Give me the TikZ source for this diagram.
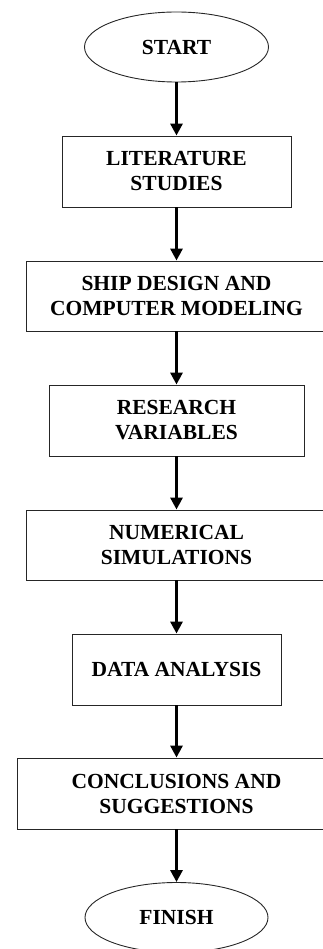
\documentclass[tikz,border=0pt]{standalone}
\usepackage{fontspec}
\setmainfont{Liberation Serif}
\usetikzlibrary{shapes.geometric,arrows.meta}
\begin{document}
\begin{tikzpicture}[x=1pt,y=-1pt,
  every node/.style={font=\bfseries\fontsize{21.5}{25}\selectfont, align=center, inner sep=0pt},
  procbox/.style={draw=black!85, line width=0.9pt, rectangle, minimum height=71pt},
  termin/.style={draw=black!85, line width=0.9pt, ellipse, minimum width=184pt, minimum height=70pt},
  flow/.style={line width=3pt, -{Triangle[width=12pt,length=12pt]}}]
\useasboundingbox (0,0) rectangle (323,949);
\clip (0,0) rectangle (323,949);
\node[termin] (start) at (176.5,47) {START};
\node[procbox, minimum width=229pt] (lit) at (176.5,171.5) {LITERATURE\\STUDIES};
\node[procbox, minimum width=300pt, minimum height=70pt] (ship) at (176.5,296) {SHIP DESIGN AND\\COMPUTER MODELING};
\node[procbox, minimum width=255pt] (res) at (176.5,420.5) {RESEARCH\\VARIABLES};
\node[procbox, minimum width=300pt, minimum height=70pt] (num) at (176.5,545) {NUMERICAL\\SIMULATIONS};
\node[procbox, minimum width=209pt] (data) at (176.5,669.5) {DATA ANALYSIS};
\node[procbox, minimum width=318pt] (conc) at (176.5,793.5) {CONCLUSIONS AND\\SUGGESTIONS};
\node[termin, minimum width=183pt] (fin) at (176.5,917.5) {FINISH};
\draw[flow] (start) -- (lit);
\draw[flow] (lit) -- (ship);
\draw[flow] (ship) -- (res);
\draw[flow] (res) -- (num);
\draw[flow] (num) -- (data);
\draw[flow] (data) -- (conc);
\draw[flow] (conc) -- (fin);
\end{tikzpicture}
\end{document}
